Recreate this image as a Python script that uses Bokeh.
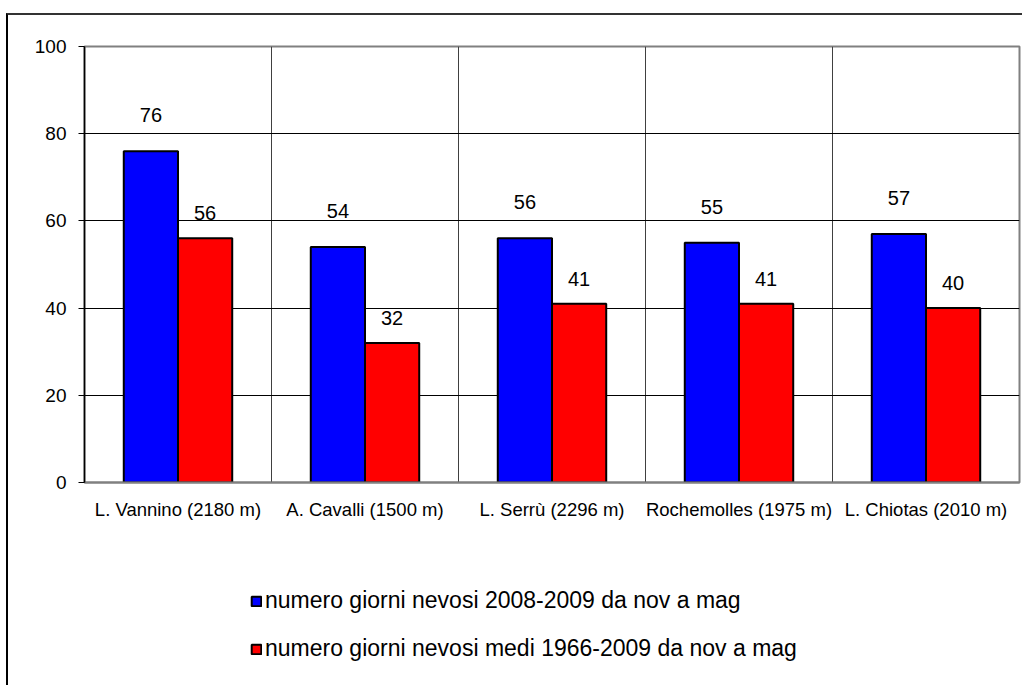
import numpy as np
from bokeh.plotting import figure
from bokeh.layouts import column
from bokeh.models import ColumnDataSource, Range1d, FixedTicker, Legend, LegendItem
from bokeh.transform import dodge
from bokeh.core.properties import value
from bokeh.embed import file_html
from bokeh.resources import INLINE

stations = ["L. Vannino (2180 m)", "A. Cavalli (1500 m)", "L. Serrù (2296 m)",
            "Rochemolles (1975 m)", "L. Chiotas (2010 m)"]
days_2008_2009 = [76, 54, 56, 55, 57]
days_mean_1966_2009 = [56, 32, 41, 41, 40]
series_names = ["numero giorni nevosi 2008-2009 da nov a mag",
                "numero giorni nevosi medi 1966-2009 da nov a mag"]
series_colors = ["#0000FF", "#FF0000"]
y_ticks = [0, 20, 40, 60, 80, 100]

FONT = "Liberation Sans"
idx = list(range(len(stations)))
src = ColumnDataSource(dict(
    x=idx,
    blue=days_2008_2009,
    red=days_mean_1966_2009,
    blue_lbl=[str(v) for v in days_2008_2009],
    red_lbl=[str(v) for v in days_mean_1966_2009],
))

W = 1014
p = figure(width=W, height=517, output_backend="svg", toolbar_location=None,
           x_range=Range1d(-0.5, len(stations) - 0.5), y_range=Range1d(0, 100),
           min_border_left=76, min_border_top=31, min_border_right=3,
           min_border_bottom=50)
p.outline_line_color = "#808080"
p.outline_line_width = 2

bw = 0.29
cols = ["blue", "red"]
offs = [-bw / 2, bw / 2]
lbl_off = [-36, -25]
for c, o, col, lo in zip(cols, offs, series_colors, lbl_off):
    p.vbar(x=dodge("x", o, range=p.x_range), top=c, width=bw, source=src,
           fill_color=col, line_color="black", line_width=2)
    p.text(x=dodge("x", o, range=p.x_range), y=c, text=c + "_lbl", source=src,
           text_align="center", text_baseline="middle", y_offset=lo,
           text_font=value(FONT), text_font_size="20px", text_color="black")

# axes
p.xaxis.ticker = FixedTicker(ticks=idx)
p.xaxis.major_label_overrides = {i: s for i, s in zip(idx, stations)}
p.xaxis.major_tick_line_color = None
p.xaxis.minor_tick_line_color = None
p.xaxis.axis_line_color = "#808080"
p.xaxis.axis_line_width = 2
p.xaxis.major_label_text_font = FONT
p.xaxis.major_label_text_font_size = "18.5px"
p.xaxis.major_label_text_color = "black"
p.xaxis.major_label_standoff = 10

p.yaxis.ticker = FixedTicker(ticks=y_ticks)
p.yaxis.major_tick_out = 6
p.yaxis.major_tick_in = 0
p.yaxis.major_tick_line_color = "black"
p.yaxis.minor_tick_line_color = None
p.yaxis.axis_line_color = "black"
p.yaxis.axis_line_width = 1.5
p.yaxis.major_label_text_font = FONT
p.yaxis.major_label_text_font_size = "19px"
p.yaxis.major_label_text_color = "black"
p.yaxis.major_label_standoff = 12

p.ygrid.ticker = FixedTicker(ticks=y_ticks[1:-1])
p.ygrid.grid_line_color = "black"
p.ygrid.grid_line_width = 1
p.xgrid.ticker = FixedTicker(ticks=[i + 0.5 for i in idx[:-1]])
p.xgrid.grid_line_color = "#404040"
p.xgrid.grid_line_width = 1

# legend panel below the chart; its swatch renderers carry no drawable bar
p2 = figure(width=W, height=153, output_backend="svg", toolbar_location=None,
            x_range=Range1d(0, 1), y_range=Range1d(0, 1),
            x_axis_type=None, y_axis_type=None, min_border=0)
p2.outline_line_color = None
p2.xgrid.visible = False
p2.ygrid.visible = False
swatch_src = ColumnDataSource(dict(x=[0.5], top=[float("nan")]))
items = []
for name, col in zip(series_names, series_colors):
    r = p2.vbar(x="x", top="top", width=0.01, source=swatch_src,
                fill_color=col, line_color="black", line_width=2)
    items.append(LegendItem(label=name, renderers=[r]))
lg = Legend(items=items)
lg.location = (166, 23)
lg.orientation = "vertical"
lg.glyph_width = 12
lg.glyph_height = 12
lg.label_height = 24
lg.label_standoff = 3
lg.spacing = 21
lg.padding = 0
lg.margin = 0
lg.border_line_color = None
lg.background_fill_alpha = 0
lg.label_text_font = FONT
lg.label_text_font_size = "23px"
lg.label_text_color = "black"
p2.add_layout(lg, "center")

layout = column(p, p2, spacing=0)
layout.styles = {"border-top": "2px solid #333333", "border-left": "2px solid #000000",
                 "margin-top": "13px", "margin-left": "6px"}

open("out.html", "w").write(file_html(layout, INLINE))
